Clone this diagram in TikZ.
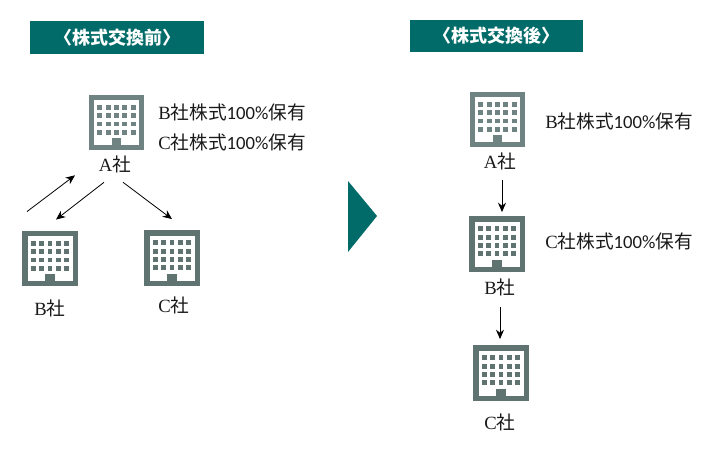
\documentclass[tikz,border=0pt]{standalone}
\usepackage{fontspec}
\setmainfont{Liberation Serif}
\newfontfamily\cjk{Noto Sans CJK JP}
\newfontfamily\num{Carlito}
\usetikzlibrary{arrows.meta,positioning,calc}
\definecolor{headc}{HTML}{006B68}
\definecolor{bldlight}{HTML}{6F8482}
\definecolor{blddark}{HTML}{5F7371}
\definecolor{text}{HTML}{1A1A1A}
\tikzset{
  headbar/.style={fill=headc, text=white, inner sep=0pt, font=\fontsize{13.5pt}{16pt}\bfseries\cjk,
                  minimum height=24.5pt, minimum width=130pt},
  bldbox/.style={inner sep=0pt, minimum size=41.5pt},
  arrow/.style={-{Stealth[length=7pt,width=6pt]}, line width=0.6pt, draw=black},
  colabel/.style={text=text, inner sep=0pt, text height=12pt, text depth=2pt, font=\fontsize{14pt}{16pt}\selectfont},
  holding/.style={text=text, inner sep=0pt, anchor=west, font=\fontsize{14pt}{16pt}\selectfont}
}
\newcommand{\sha}{{\cjk 社}}
\newcommand{\hold}[1]{#1{\cjk 社株式}{\num 100\%}{\cjk 保有}}
% one office block
\newcommand{\building}[3]{
  \node[bldbox,fill=#3] (#1) at (#2) {};
  \begin{scope}[shift={(#2)}]
    \fill[white] (-22.5,-22.5) rectangle (22.5,22.5);
    \fill[#3] (-4.7,15.8) rectangle (4.7,22.5);
    \foreach \i in {-16.7,-8.35,0,8.35,16.7} {
      \foreach \j in {-15.2,-6.8,1.5,9.8} {
        \fill[#3] (\i-2.4,\j-2.4) rectangle (\i+2.4,\j+2.4);
      }
    }
  \end{scope}
}
\begin{document}
\begin{tikzpicture}[x=0.75pt,y=-0.75pt]
  \useasboundingbox (0,0) rectangle (718,451);
  \node[headbar] (headbefore) at (117,37.5) {〈株式交換前〉};
  \node[headbar] (headafter) at (496.5,36) {〈株式交換後〉};

  % before
  \building{bldA}{116.5,122.5}{bldlight}
  \building{bldB}{50,258.5}{blddark}
  \building{bldC}{172,258}{blddark}
  \node[colabel] (lblA) at (115,165) {A\sha};
  \node[colabel] (lblB) at (50,309) {B\sha};
  \node[colabel] (lblC) at (174,306) {C\sha};
  \node[holding] (holdB) at (158,112.5) {\hold{B}};
  \node[holding] (holdC) at (158,142.5) {\hold{C}};
  \draw[arrow] ([shift={(-23,-19)}]bldB.north) -- ([shift={(-40,0.7)}]lblA.south);
  \draw[arrow] ([shift={(-11,7.7)}]lblA.south) -- ([shift={(6,-11)}]bldB.north);
  \draw[arrow] ([shift={(8,7.7)}]lblA.south) -- ([shift={(0,-11)}]bldC.north);

  \fill[headc] (348,181) -- (377,216) -- (348,252) -- cycle;

  % after
  \building{bldAx}{497.5,119.5}{bldlight}
  \building{bldBx}{497,244}{blddark}
  \building{bldCx}{501,373}{blddark}
  \node[colabel] (lblAx) at (500,161.5) {A\sha};
  \node[colabel] (lblBx) at (500,287.5) {B\sha};
  \node[colabel] (lblCx) at (500,422.5) {C\sha};
  \node[holding] (holdBx) at (545,121.5) {\hold{B}};
  \node[holding] (holdCx) at (545,241.5) {\hold{C}};
  \draw[arrow] ([shift={(2,9.2)}]lblAx.south) -- ([shift={(5,-4)}]bldBx.north);
  \draw[arrow] ([shift={(0,10.2)}]lblBx.south) -- ([shift={(-1,-6)}]bldCx.north);
\end{tikzpicture}
\end{document}
